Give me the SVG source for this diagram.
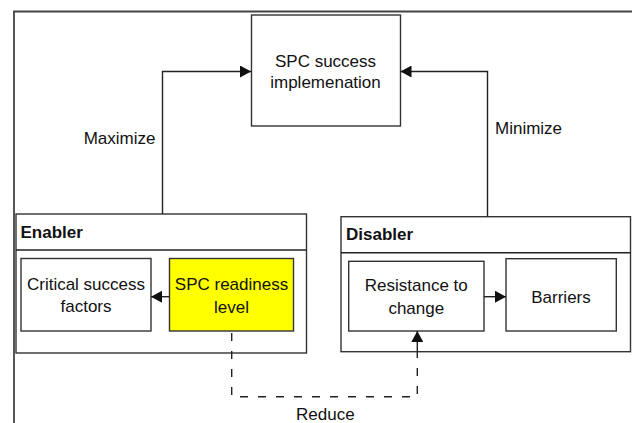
<svg xmlns="http://www.w3.org/2000/svg" width="632" height="423" viewBox="0 0 632 423">
<style>
  .box { fill: #ffffff; stroke: #333333; stroke-width: 1.4; }
  .hl { fill: #ffff00; stroke: #333333; stroke-width: 1.4; }
  .ln { fill: none; stroke: #222222; stroke-width: 1.4; }
  .dash { fill: none; stroke: #222222; stroke-width: 1.4; stroke-dasharray: 8 10; }
  .t { font-family: "Liberation Sans", Arial, sans-serif; font-size: 17px; fill: #111111; text-anchor: middle; }
  .lbl { font-family: "Liberation Sans", Arial, sans-serif; font-size: 17px; fill: #111111; }
  .hdr { font-family: "Liberation Sans", Arial, sans-serif; font-size: 17px; font-weight: bold; fill: #111111; }
</style>
<defs>
  <marker id="arr" markerWidth="11" markerHeight="12" refX="11" refY="6" orient="auto" markerUnits="userSpaceOnUse">
    <path d="M0,0 L11,6 L0,12 Z" fill="#111111"/>
  </marker>
</defs>
<rect x="0" y="0" width="632" height="423" fill="#ffffff"/>
<path id="frame" d="M14,423 V11.5 H632" fill="none" stroke="#444444" stroke-width="1.8"/>

<g id="spc-success">
  <rect class="box" x="251.5" y="15" width="149" height="111"/>
  <text class="t" x="325.5" y="66.5">SPC success</text>
  <text class="t" x="325.5" y="88">implemenation</text>
</g>

<g id="enabler">
  <rect class="box" x="16" y="214" width="290.5" height="139"/>
  <line class="ln" x1="16" y1="250" x2="306.5" y2="250"/>
  <text class="hdr" x="20.5" y="237.5">Enabler</text>
</g>

<g id="critical-success-factors">
  <rect class="box" x="21" y="258.5" width="130" height="72.5"/>
  <text class="t" x="86" y="289.5">Critical success</text>
  <text class="t" x="86" y="312">factors</text>
</g>

<g id="spc-readiness-level">
  <rect class="hl" x="169.5" y="258.5" width="124" height="72.5"/>
  <text class="t" x="231.5" y="290">SPC readiness</text>
  <text class="t" x="231.5" y="312.5">level</text>
</g>

<g id="disabler">
  <rect class="box" x="341" y="216.7" width="289.5" height="135"/>
  <line class="ln" x1="341" y1="252.7" x2="630.5" y2="252.7"/>
  <text class="hdr" x="346" y="240">Disabler</text>
</g>

<g id="resistance-to-change">
  <rect class="box" x="348.7" y="261.3" width="135.3" height="69.7"/>
  <text class="t" x="416.3" y="291">Resistance to</text>
  <text class="t" x="416.3" y="313.5">change</text>
</g>

<g id="barriers">
  <rect class="box" x="506" y="258.7" width="110.3" height="72.3"/>
  <text class="t" x="561" y="302.5">Barriers</text>
</g>

<g id="connectors">
  <path class="ln" d="M162.5,214 V71.5 H251" marker-end="url(#arr)"/>
  <path class="ln" d="M487.5,216.7 V71.5 H400.5" marker-end="url(#arr)"/>
  <path class="ln" d="M169.5,296.7 H151" marker-end="url(#arr)"/>
  <path class="ln" d="M484,296.7 H506" marker-end="url(#arr)"/>
  <path class="dash" d="M231.7,333 V396.7 H417.3 V352"/>
  <path class="ln" d="M417.3,352 V331" marker-end="url(#arr)"/>
  <text class="lbl" x="155.5" y="143.5" text-anchor="end">Maximize</text>
  <text class="lbl" x="495" y="134">Minimize</text>
  <text class="lbl" x="296" y="420">Reduce</text>
</g>
</svg>
